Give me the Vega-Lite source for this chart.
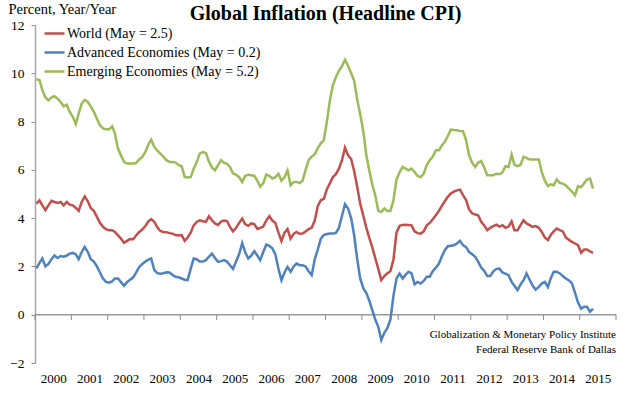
{
"$schema": "https://vega.github.io/schema/vega-lite/v6.json",
"width": 581, "height": 338,
"autosize": {"type": "none"},
"padding": {"left": 35, "top": 25, "right": 24, "bottom": 32},
"background": "white",
"title": {"text": "Global Inflation (Headline CPI)", "font": "Liberation Serif", "fontSize": 20, "fontWeight": "bold", "color": "black", "anchor": "middle", "frame": "group", "baseline": "alphabetic", "offset": 4, "dy": 43},
"config": {"view": {"stroke": null}, "font": "Liberation Serif"},
"datasets": {
"ticks": [{"t":"2000-01-01"},{"t":"2001-01-01"},{"t":"2002-01-01"},{"t":"2003-01-01"},{"t":"2004-01-01"},{"t":"2005-01-01"},{"t":"2006-01-01"},{"t":"2007-01-01"},{"t":"2008-01-01"},{"t":"2009-01-01"},{"t":"2010-01-01"},{"t":"2011-01-01"},{"t":"2012-01-01"},{"t":"2013-01-01"},{"t":"2014-01-01"},{"t":"2015-01-01"},{"t":"2016-01-01"}],
"cpi": [
{"d":"2000-01-15","w":4.6,"a":1.92,"e":9.75},
{"d":"2000-02-15","w":4.74,"a":2.15,"e":9.72},
{"d":"2000-03-15","w":4.53,"a":2.33,"e":9.3},
{"d":"2000-04-15","w":4.33,"a":2.0,"e":9.0},
{"d":"2000-05-15","w":4.53,"a":2.1,"e":8.88},
{"d":"2000-06-15","w":4.72,"a":2.3,"e":9.0},
{"d":"2000-07-15","w":4.67,"a":2.45,"e":9.05},
{"d":"2000-08-15","w":4.63,"a":2.35,"e":8.95},
{"d":"2000-09-15","w":4.67,"a":2.43,"e":8.81},
{"d":"2000-10-15","w":4.53,"a":2.4,"e":8.63},
{"d":"2000-11-15","w":4.67,"a":2.45,"e":8.7},
{"d":"2000-12-15","w":4.56,"a":2.53,"e":8.4},
{"d":"2001-01-15","w":4.53,"a":2.56,"e":8.2},
{"d":"2001-02-15","w":4.42,"a":2.5,"e":7.9},
{"d":"2001-03-15","w":4.3,"a":2.3,"e":8.33},
{"d":"2001-04-15","w":4.67,"a":2.6,"e":8.74},
{"d":"2001-05-15","w":4.9,"a":2.81,"e":8.9},
{"d":"2001-06-15","w":4.7,"a":2.6,"e":8.81},
{"d":"2001-07-15","w":4.42,"a":2.3,"e":8.63},
{"d":"2001-08-15","w":4.3,"a":2.2,"e":8.4},
{"d":"2001-09-15","w":4.05,"a":2.0,"e":8.12},
{"d":"2001-10-15","w":3.81,"a":1.75,"e":7.85},
{"d":"2001-11-15","w":3.64,"a":1.5,"e":7.72},
{"d":"2001-12-15","w":3.54,"a":1.36,"e":7.68},
{"d":"2002-01-15","w":3.5,"a":1.33,"e":7.68},
{"d":"2002-02-15","w":3.5,"a":1.38,"e":7.8},
{"d":"2002-03-15","w":3.43,"a":1.5,"e":7.5},
{"d":"2002-04-15","w":3.29,"a":1.5,"e":6.88},
{"d":"2002-05-15","w":3.15,"a":1.35,"e":6.6},
{"d":"2002-06-15","w":2.98,"a":1.2,"e":6.33},
{"d":"2002-07-15","w":3.06,"a":1.35,"e":6.26},
{"d":"2002-08-15","w":3.14,"a":1.45,"e":6.26},
{"d":"2002-09-15","w":3.13,"a":1.55,"e":6.26},
{"d":"2002-10-15","w":3.29,"a":1.75,"e":6.29},
{"d":"2002-11-15","w":3.43,"a":1.98,"e":6.43},
{"d":"2002-12-15","w":3.53,"a":2.1,"e":6.54},
{"d":"2003-01-15","w":3.67,"a":2.2,"e":6.74},
{"d":"2003-02-15","w":3.87,"a":2.28,"e":7.06},
{"d":"2003-03-15","w":3.96,"a":2.33,"e":7.25},
{"d":"2003-04-15","w":3.85,"a":1.85,"e":6.95},
{"d":"2003-05-15","w":3.62,"a":1.72,"e":6.8},
{"d":"2003-06-15","w":3.47,"a":1.7,"e":6.67},
{"d":"2003-07-15","w":3.43,"a":1.72,"e":6.55},
{"d":"2003-08-15","w":3.42,"a":1.76,"e":6.4},
{"d":"2003-09-15","w":3.38,"a":1.75,"e":6.33},
{"d":"2003-10-15","w":3.36,"a":1.65,"e":6.33},
{"d":"2003-11-15","w":3.3,"a":1.57,"e":6.3},
{"d":"2003-12-15","w":3.28,"a":1.55,"e":6.2},
{"d":"2004-01-15","w":3.3,"a":1.5,"e":6.15},
{"d":"2004-02-15","w":3.06,"a":1.45,"e":5.7},
{"d":"2004-03-15","w":3.2,"a":1.43,"e":5.68},
{"d":"2004-04-15","w":3.4,"a":1.9,"e":5.7},
{"d":"2004-05-15","w":3.7,"a":2.33,"e":6.05},
{"d":"2004-06-15","w":3.84,"a":2.3,"e":6.33},
{"d":"2004-07-15","w":3.91,"a":2.2,"e":6.67},
{"d":"2004-08-15","w":3.87,"a":2.2,"e":6.74},
{"d":"2004-09-15","w":3.85,"a":2.26,"e":6.7},
{"d":"2004-10-15","w":4.08,"a":2.4,"e":6.35},
{"d":"2004-11-15","w":3.92,"a":2.53,"e":6.1},
{"d":"2004-12-15","w":3.78,"a":2.35,"e":5.98},
{"d":"2005-01-15","w":3.72,"a":2.19,"e":6.2},
{"d":"2005-02-15","w":3.86,"a":2.22,"e":6.4},
{"d":"2005-03-15","w":3.9,"a":2.26,"e":6.3},
{"d":"2005-04-15","w":3.88,"a":2.2,"e":6.25},
{"d":"2005-05-15","w":3.64,"a":2.05,"e":6.12},
{"d":"2005-06-15","w":3.45,"a":1.9,"e":5.85},
{"d":"2005-07-15","w":3.6,"a":2.2,"e":5.8},
{"d":"2005-08-15","w":3.8,"a":2.5,"e":5.7},
{"d":"2005-09-15","w":3.98,"a":2.97,"e":5.5},
{"d":"2005-10-15","w":3.75,"a":2.6,"e":5.75},
{"d":"2005-11-15","w":3.68,"a":2.33,"e":5.8},
{"d":"2005-12-15","w":3.78,"a":2.45,"e":5.78},
{"d":"2006-01-15","w":3.75,"a":2.63,"e":5.75},
{"d":"2006-02-15","w":3.55,"a":2.45,"e":5.55},
{"d":"2006-03-15","w":3.6,"a":2.26,"e":5.3},
{"d":"2006-04-15","w":3.65,"a":2.6,"e":5.45},
{"d":"2006-05-15","w":3.9,"a":2.9,"e":5.8},
{"d":"2006-06-15","w":4.08,"a":2.85,"e":5.75},
{"d":"2006-07-15","w":3.9,"a":2.75,"e":5.64},
{"d":"2006-08-15","w":3.8,"a":2.5,"e":5.7},
{"d":"2006-09-15","w":3.4,"a":1.9,"e":5.84},
{"d":"2006-10-15","w":3.05,"a":1.43,"e":5.55},
{"d":"2006-11-15","w":3.4,"a":1.75,"e":5.7},
{"d":"2006-12-15","w":3.55,"a":1.98,"e":5.98},
{"d":"2007-01-15","w":3.15,"a":1.78,"e":5.36},
{"d":"2007-02-15","w":3.35,"a":2.0,"e":5.5},
{"d":"2007-03-15","w":3.43,"a":2.12,"e":5.5},
{"d":"2007-04-15","w":3.35,"a":2.05,"e":5.45},
{"d":"2007-05-15","w":3.36,"a":2.05,"e":5.55},
{"d":"2007-06-15","w":3.45,"a":2.0,"e":6.0},
{"d":"2007-07-15","w":3.55,"a":1.8,"e":6.4},
{"d":"2007-08-15","w":3.6,"a":1.64,"e":6.55},
{"d":"2007-09-15","w":3.9,"a":2.3,"e":6.65},
{"d":"2007-10-15","w":4.5,"a":2.7,"e":6.9},
{"d":"2007-11-15","w":4.74,"a":3.15,"e":7.1},
{"d":"2007-12-15","w":4.8,"a":3.3,"e":7.23},
{"d":"2008-01-15","w":5.2,"a":3.34,"e":8.0},
{"d":"2008-02-15","w":5.45,"a":3.36,"e":8.9},
{"d":"2008-03-15","w":5.7,"a":3.36,"e":9.5},
{"d":"2008-04-15","w":5.82,"a":3.39,"e":9.85},
{"d":"2008-05-15","w":6.05,"a":3.6,"e":10.1},
{"d":"2008-06-15","w":6.4,"a":4.1,"e":10.3},
{"d":"2008-07-15","w":6.92,"a":4.58,"e":10.56},
{"d":"2008-08-15","w":6.6,"a":4.4,"e":10.3},
{"d":"2008-09-15","w":6.45,"a":4.0,"e":10.0},
{"d":"2008-10-15","w":5.95,"a":3.3,"e":9.7},
{"d":"2008-11-15","w":5.3,"a":2.3,"e":8.9},
{"d":"2008-12-15","w":4.6,"a":1.5,"e":8.3},
{"d":"2009-01-15","w":4.1,"a":1.1,"e":7.6},
{"d":"2009-02-15","w":3.6,"a":0.9,"e":6.6},
{"d":"2009-03-15","w":3.2,"a":0.6,"e":6.0},
{"d":"2009-04-15","w":2.8,"a":0.2,"e":5.4},
{"d":"2009-05-15","w":2.35,"a":-0.2,"e":4.95},
{"d":"2009-06-15","w":1.9,"a":-0.5,"e":4.3},
{"d":"2009-07-15","w":1.43,"a":-1.05,"e":4.25},
{"d":"2009-08-15","w":1.6,"a":-0.75,"e":4.4},
{"d":"2009-09-15","w":1.72,"a":-0.55,"e":4.3},
{"d":"2009-10-15","w":1.8,"a":-0.2,"e":4.3},
{"d":"2009-11-15","w":2.3,"a":0.8,"e":4.75},
{"d":"2009-12-15","w":3.4,"a":1.5,"e":5.6},
{"d":"2010-01-15","w":3.68,"a":1.7,"e":5.9},
{"d":"2010-02-15","w":3.72,"a":1.5,"e":6.12},
{"d":"2010-03-15","w":3.73,"a":1.65,"e":6.05},
{"d":"2010-04-15","w":3.72,"a":1.78,"e":5.98},
{"d":"2010-05-15","w":3.7,"a":1.71,"e":6.05},
{"d":"2010-06-15","w":3.45,"a":1.26,"e":5.91},
{"d":"2010-07-15","w":3.38,"a":1.36,"e":5.75},
{"d":"2010-08-15","w":3.36,"a":1.29,"e":5.7},
{"d":"2010-09-15","w":3.45,"a":1.4,"e":5.84},
{"d":"2010-10-15","w":3.7,"a":1.57,"e":6.2},
{"d":"2010-11-15","w":3.8,"a":1.57,"e":6.4},
{"d":"2010-12-15","w":3.95,"a":1.8,"e":6.55},
{"d":"2011-01-15","w":4.12,"a":1.95,"e":6.81},
{"d":"2011-02-15","w":4.3,"a":2.12,"e":6.81},
{"d":"2011-03-15","w":4.5,"a":2.4,"e":7.0},
{"d":"2011-04-15","w":4.7,"a":2.67,"e":7.16},
{"d":"2011-05-15","w":4.88,"a":2.84,"e":7.4},
{"d":"2011-06-15","w":5.02,"a":2.86,"e":7.67},
{"d":"2011-07-15","w":5.1,"a":2.88,"e":7.65},
{"d":"2011-08-15","w":5.15,"a":2.95,"e":7.64},
{"d":"2011-09-15","w":5.18,"a":3.06,"e":7.61},
{"d":"2011-10-15","w":4.95,"a":2.88,"e":7.6},
{"d":"2011-11-15","w":4.75,"a":2.8,"e":7.23},
{"d":"2011-12-15","w":4.36,"a":2.6,"e":6.61},
{"d":"2012-01-15","w":4.2,"a":2.5,"e":6.3},
{"d":"2012-02-15","w":4.15,"a":2.4,"e":6.12},
{"d":"2012-03-15","w":4.12,"a":2.2,"e":6.3},
{"d":"2012-04-15","w":3.85,"a":1.95,"e":6.37},
{"d":"2012-05-15","w":3.7,"a":1.82,"e":6.1},
{"d":"2012-06-15","w":3.5,"a":1.6,"e":5.78},
{"d":"2012-07-15","w":3.6,"a":1.6,"e":5.78},
{"d":"2012-08-15","w":3.67,"a":1.8,"e":5.78},
{"d":"2012-09-15","w":3.73,"a":1.9,"e":5.84},
{"d":"2012-10-15","w":3.65,"a":1.91,"e":5.82},
{"d":"2012-11-15","w":3.71,"a":1.75,"e":5.9},
{"d":"2012-12-15","w":3.6,"a":1.7,"e":6.15},
{"d":"2013-01-15","w":3.65,"a":1.64,"e":6.12},
{"d":"2013-02-15","w":3.87,"a":1.36,"e":6.63},
{"d":"2013-03-15","w":3.5,"a":1.2,"e":6.22},
{"d":"2013-04-15","w":3.5,"a":1.02,"e":6.15},
{"d":"2013-05-15","w":3.7,"a":1.25,"e":6.2},
{"d":"2013-06-15","w":3.91,"a":1.43,"e":6.54},
{"d":"2013-07-15","w":3.78,"a":1.71,"e":6.5},
{"d":"2013-08-15","w":3.71,"a":1.45,"e":6.43},
{"d":"2013-09-15","w":3.64,"a":1.2,"e":6.43},
{"d":"2013-10-15","w":3.67,"a":1.04,"e":6.43},
{"d":"2013-11-15","w":3.6,"a":1.15,"e":6.43},
{"d":"2013-12-15","w":3.43,"a":1.29,"e":5.92},
{"d":"2014-01-15","w":3.2,"a":1.36,"e":5.55},
{"d":"2014-02-15","w":3.09,"a":1.15,"e":5.32},
{"d":"2014-03-15","w":3.3,"a":1.5,"e":5.4},
{"d":"2014-04-15","w":3.45,"a":1.78,"e":5.36},
{"d":"2014-05-15","w":3.57,"a":1.78,"e":5.6},
{"d":"2014-06-15","w":3.5,"a":1.71,"e":5.46},
{"d":"2014-07-15","w":3.45,"a":1.6,"e":5.43},
{"d":"2014-08-15","w":3.2,"a":1.5,"e":5.35},
{"d":"2014-09-15","w":3.1,"a":1.42,"e":5.22},
{"d":"2014-10-15","w":3.02,"a":1.3,"e":5.1},
{"d":"2014-11-15","w":2.95,"a":0.9,"e":4.95},
{"d":"2014-12-15","w":2.88,"a":0.5,"e":5.32},
{"d":"2015-01-15","w":2.57,"a":0.25,"e":5.29},
{"d":"2015-02-15","w":2.7,"a":0.33,"e":5.45},
{"d":"2015-03-15","w":2.7,"a":0.33,"e":5.6},
{"d":"2015-04-15","w":2.62,"a":0.12,"e":5.64},
{"d":"2015-05-15","w":2.56,"a":0.25,"e":5.22}
]},
"layer": [
{
"data": {"values": [{"k": 1}]},
"mark": {"type": "rule", "color": "#9a9a9a", "strokeWidth": 1.5},
"encoding": {"y": {"datum": 0}}
},
{
"data": {"name": "ticks"},
"mark": {"type": "rule", "color": "#8a8a8a", "strokeWidth": 1},
"encoding": {
"x": {"field": "t", "type": "temporal"},
"y": {"datum": 0},
"y2": {"datum": -0.22}
}
},
{
"data": {"name": "cpi"},
"transform": [{"fold": ["w", "a", "e"], "as": ["s", "v"]}],
"mark": {"type": "line", "strokeWidth": 2.5},
"encoding": {
"x": {"field": "d", "type": "temporal",
 "scale": {"domain": [{"year": 2000, "month": 1, "date": 1}, {"year": 2016, "month": 1, "date": 1}]},
 "axis": {"orient": "bottom", "offset": -48.3, "domain": false, "ticks": false,
  "tickCount": {"interval": "year", "step": 1},
  "labelExpr": "year(datum.value) > 2015 ? '' : '' + year(datum.value)",
  "labelOffset": 18.15, "labelPadding": 58, "labelAngle": 0,
  "labelFont": "Liberation Serif", "labelFontSize": 13, "labelColor": "black",
  "labelFlush": false, "labelOverlap": false, "labelBound": false, "labelSeparation": 0, "grid": false, "title": null}},
"y": {"field": "v", "type": "quantitative",
 "scale": {"domain": [-2, 12], "nice": false, "zero": false},
 "axis": {"values": [-2, 0, 2, 4, 6, 8, 10, 12], "tickSize": 4, "labelPadding": 7,
  "domainColor": "#a6a6a6", "tickColor": "#8c8c8c", "domainWidth": 1.5,
  "labelFont": "Liberation Serif", "labelFontSize": 13.5, "labelColor": "black", "grid": false,
  "title": "Percent,  Year/Year", "titleAngle": 0, "titleAlign": "left", "titleBaseline": "alphabetic",
  "titleX": -27, "titleY": -12, "titleFont": "Liberation Serif", "titleFontSize": 14.5,
  "titleFontWeight": "normal", "titleColor": "black"}},
"color": {"field": "s", "type": "nominal",
 "scale": {"domain": ["w", "a", "e"], "range": ["#C0504D", "#4F81BD", "#9BBB59"]},
 "legend": {"orient": "none", "legendX": 8, "legendY": -3, "title": null,
  "symbolType": "stroke", "symbolSize": 400, "symbolStrokeWidth": 2.5,
  "labelFont": "Liberation Serif", "labelFontSize": 14, "labelColor": "black", "labelLimit": 400,
  "labelOffset": 1, "rowPadding": 0, "padding": 0,
  "labelExpr": "datum.label == 'w' ? 'World (May = 2.5)' : datum.label == 'a' ? 'Advanced Economies (May = 0.2)' : 'Emerging Economies (May = 5.2)'"}}
}
},
{
"data": {"values": [{"k": 1}]},
"mark": {"type": "text", "align": "right", "baseline": "alphabetic", "fontSize": 11, "font": "Liberation Serif", "lineHeight": 15, "color": "black"},
"encoding": {
"x": {"datum": {"year": 2016, "month": 1, "date": 1}, "type": "temporal"},
"y": {"datum": -0.97},
"text": {"value": ["Globalization & Monetary Policy Institute", "Federal Reserve Bank of Dallas"]}
}
}
]
}
